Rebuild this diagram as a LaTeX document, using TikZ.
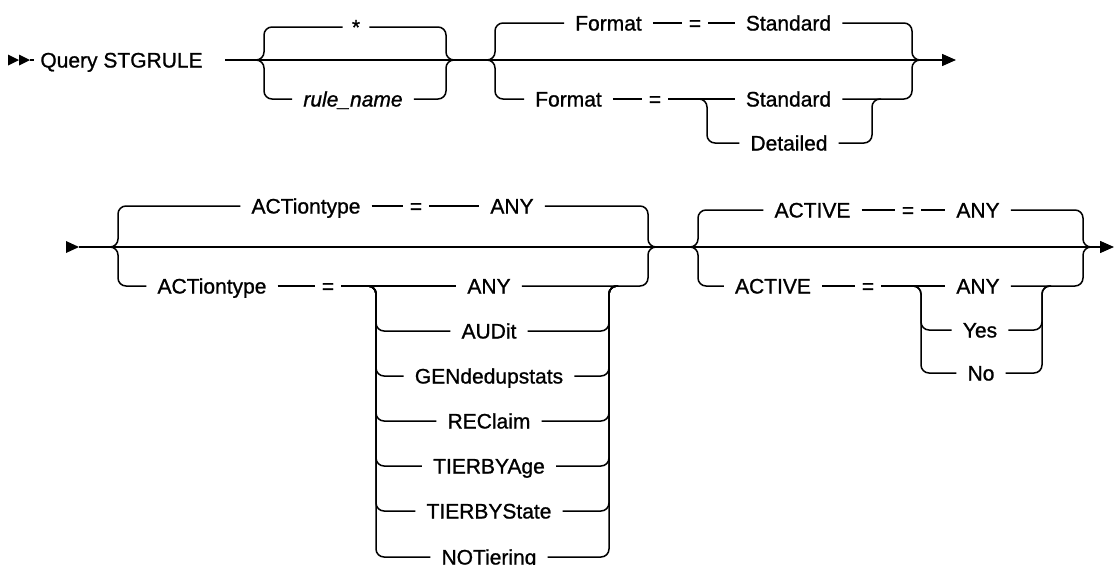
\documentclass[tikz,border=0pt]{standalone}
\usepackage{fontspec}
\setmainfont{Liberation Sans}[BoldFont=Liberation Sans, BoldFeatures={FakeBold=1.0},
  BoldItalicFont=Liberation Sans Italic, BoldItalicFeatures={FakeBold=1.0}]
\usetikzlibrary{arrows.meta}
\begin{document}
\begin{tikzpicture}[x=1pt,y=-1pt,
  rail/.style={line width=1.5pt, rounded corners=8pt},
  kw/.style={font=\fontsize{21}{24}\selectfont\bfseries, inner xsep=11pt, inner ysep=0pt, text height=15pt, text depth=0pt},
  eqs/.style={kw, inner xsep=7pt},
  tip/.style={fill=black},
  endarrow/.style={-{Triangle[length=14pt,width=12pt]}}]
\useasboundingbox (0,0) rectangle (1114,565);

% ---------- row 1 ----------
\fill[tip] (8,54.5) -- (19,60) -- (8,65.5) -- cycle;
\fill[tip] (19,54.5) -- (30,60) -- (19,65.5) -- cycle;
\coordinate (s0) at (30,60);
\node[kw, inner xsep=6pt] (q) at (121.5,60) {Query STGRULE};
\draw[rail] (s0) -- (q.west);

\coordinate (g1in) at (225,60);
\coordinate (g1L) at (255,60);
\coordinate (g1R) at (454,60);
\node[kw, inner xsep=9pt] (star) at (356,27) {*};
\node[kw, font=\fontsize{21}{24}\selectfont\bfseries\itshape] (rn) at (353,99) {rule\_name};
\draw[rail] (g1in) -- (g1L) -- (g1R);
\draw[rail] (g1L) -- (264,60) -- (264,27) -- (star.west);
\draw[rail] (star.east) -- (446,27) -- (446,60) -- (g1R);
\draw[rail] (g1L) -- (264,60) -- (264,99) -- (rn.west);
\draw[rail] (rn.east) -- (446,99) -- (446,60) -- (g1R);

\coordinate (g2L) at (486,60);
\coordinate (g2R) at (921,60);
\node[kw] (f1) at (608.5,23) {Format};
\node[eqs] (e1) at (695,23) {=};
\node[kw] (s1) at (788.5,23) {Standard};
\draw[rail] (g1R) -- (g2L) -- (g2R);
\draw[rail] (g2L) -- (495,60) -- (495,23) -- (f1.west);
\draw[rail] (f1.east) -- (e1.west);
\draw[rail] (e1.east) -- (s1.west);
\draw[rail] (s1.east) -- (912,23) -- (912,60) -- (g2R);

\node[kw] (f2) at (568.5,99) {Format};
\node[eqs] (e2) at (655,99) {=};
\node[kw] (s2) at (788.5,99) {Standard};
\node[kw] (d2) at (789,143) {Detailed};
\coordinate (fb) at (698,99);
\coordinate (fj) at (881,99);
\draw[rail] (g2L) -- (495,60) -- (495,99) -- (f2.west);
\draw[rail] (f2.east) -- (e2.west);
\draw[rail] (e2.east) -- (fb) -- (s2.west);
\draw[rail] (fb) -- (707,99) -- (707,143) -- (d2.west);
\draw[rail] (d2.east) -- (872,143) -- (872,99) -- (fj);
\draw[rail] (s2.east) -- (912,99) -- (912,60) -- (g2R);
\coordinate (end1) at (956,60);
\draw[line width=1.5pt, endarrow] (g2R) -- (end1);

% ---------- row 2 ----------
\fill[tip] (66,241) -- (79,247) -- (66,253) -- cycle;
\coordinate (r2s) at (79,247);
\coordinate (g3L) at (110,247);
\coordinate (g3R) at (657,247);
\draw[rail] (r2s) -- (g3L) -- (g3R);

\node[kw] (a1) at (306,206) {ACTiontype};
\node[eqs] (e3) at (416,206) {=};
\node[kw] (n1) at (512,206) {ANY};
\draw[rail] (g3L) -- (118,247) -- (118,206) -- (a1.west);
\draw[rail] (a1.east) -- (e3.west);
\draw[rail] (e3.east) -- (n1.west);
\draw[rail] (n1.east) -- (648,206) -- (648,247) -- (g3R);

\node[kw] (a2) at (212,286) {ACTiontype};
\node[eqs] (e4) at (328,286) {=};
\coordinate (b3) at (367,286);
\coordinate (j3) at (618,286);
\draw[rail] (g3L) -- (118,247) -- (118,286) -- (a2.west);
\draw[rail] (a2.east) -- (e4.west);
\foreach \t/\y [count=\i] in {ANY/286, AUDit/331, GENdedupstats/376, REClaim/421, TIERBYAge/466, TIERBYState/511, NOTiering/557}{
  \node[kw] (o\i) at (489,\y) {\t};
}
\draw[rail] (e4.east) -- (b3) -- (o1.west);
\draw[rail] (o1.east) -- (j3) -- (648,286) -- (648,247) -- (g3R);
\foreach \y [count=\i from 2] in {331,376,421,466,511,557}{
  \draw[rail] (b3) -- (376,286) -- (376,\y) -- (o\i.west);
  \draw[rail] (o\i.east) -- (609,\y) -- (609,286) -- (j3);
}

\coordinate (g4L) at (689,247);
\coordinate (g4R) at (1092,247);
\draw[rail] (g3R) -- (g4L) -- (g4R);
\coordinate (end2) at (1114,247);
\draw[line width=1.5pt, endarrow] (g4R) -- (end2);

\node[kw] (c1) at (812.5,210) {ACTIVE};
\node[eqs] (e5) at (908,210) {=};
\node[kw] (n3) at (978,210) {ANY};
\draw[rail] (g4L) -- (698,247) -- (698,210) -- (c1.west);
\draw[rail] (c1.east) -- (e5.west);
\draw[rail] (e5.east) -- (n3.west);
\draw[rail] (n3.east) -- (1083,210) -- (1083,247) -- (g4R);

\node[kw] (c2) at (773,286) {ACTIVE};
\node[eqs] (e6) at (868,286) {=};
\coordinate (b4) at (912,286);
\coordinate (j4) at (1051,286);
\node[kw] (p1) at (978,286) {ANY};
\node[kw] (p2) at (980,330) {Yes};
\node[kw] (p3) at (981,373) {No};
\draw[rail] (g4L) -- (698,247) -- (698,286) -- (c2.west);
\draw[rail] (c2.east) -- (e6.west);
\draw[rail] (e6.east) -- (b4) -- (p1.west);
\draw[rail] (p1.east) -- (j4) -- (1083,286) -- (1083,247) -- (g4R);
\draw[rail] (b4) -- (921,286) -- (921,330) -- (p2.west);
\draw[rail] (p2.east) -- (1042,330) -- (1042,286) -- (j4);
\draw[rail] (b4) -- (921,286) -- (921,373) -- (p3.west);
\draw[rail] (p3.east) -- (1042,373) -- (1042,286) -- (j4);
\end{tikzpicture}
\end{document}
